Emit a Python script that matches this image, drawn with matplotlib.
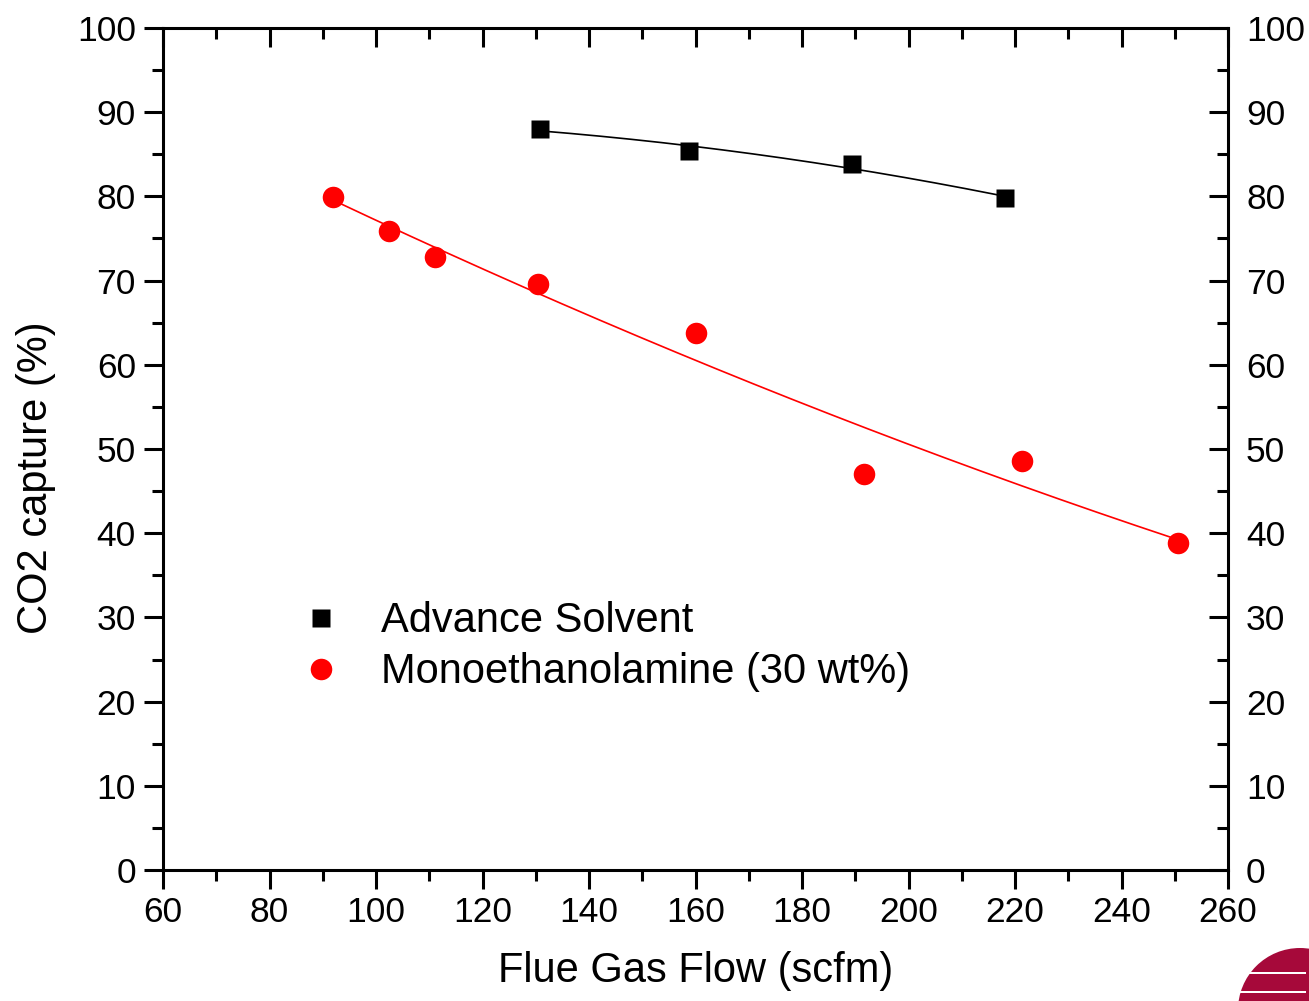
import matplotlib
matplotlib.use('Agg')

import matplotlib.pyplot as plt
import numpy as np
from matplotlib.patches import Circle, Rectangle
from matplotlib.ticker import MultipleLocator

plt.rcParams['font.family'] = ['Liberation Sans', 'DejaVu Sans']

# advance solvent runs
adv_flow = [130.8, 158.8, 189.4, 218.1]
adv_capture = [88.0, 85.4, 83.9, 79.8]

# 30 wt% MEA runs
mea_flow = [91.9, 102.4, 111.1, 130.4, 160.1, 191.6, 221.3, 250.6]
mea_capture = [79.9, 75.9, 72.8, 69.6, 63.8, 47.0, 48.6, 38.8]

TICK_FS = 25.5
LABEL_FS = 30

fig = plt.figure(figsize=(13.09, 10.01), dpi=100)
ax = fig.add_axes([163 / 1309, 131 / 1001, 1065 / 1309, 842 / 1001])


def fit_curve(x, y, deg=2):
    c = np.polyfit(x, y, deg)
    xs = np.linspace(min(x), max(x), 200)
    return xs, np.polyval(c, xs)


xs, ys = fit_curve(adv_flow, adv_capture)
ax.plot(xs, ys, color='black', lw=1.2, zorder=2)
xs, ys = fit_curve(mea_flow, mea_capture)
ax.plot(xs, ys, color='red', lw=1.2, zorder=2)

ax.plot(adv_flow, adv_capture, 's', color='black', ms=13.5, mec='none',
        label='Advance Solvent', zorder=3)
ax.plot(mea_flow, mea_capture, 'o', color='red', ms=15.5, mec='none',
        label='Monoethanolamine (30 wt%)', zorder=3)

ax.set_xlim(60, 260)
ax.set_ylim(0, 100)
ax.xaxis.set_major_locator(MultipleLocator(20))
ax.xaxis.set_minor_locator(MultipleLocator(10))
ax.yaxis.set_major_locator(MultipleLocator(10))
ax.yaxis.set_minor_locator(MultipleLocator(5))

for s in ax.spines.values():
    s.set_linewidth(2.2)

ax.tick_params(which='both', width=2.2, labelsize=TICK_FS, direction='out',
               top=False, right=False)
ax.tick_params(which='major', length=13.5, pad=5)
ax.tick_params(which='minor', length=8)
ax.tick_params(axis='y', which='major', pad=6)

# right side copy of the y axis with ticks pointing inward
ax2 = ax.twinx()
ax2.set_ylim(ax.get_ylim())
ax2.yaxis.set_major_locator(MultipleLocator(10))
ax2.yaxis.set_minor_locator(MultipleLocator(5))
ax2.tick_params(which='both', direction='in', width=2.2, labelsize=TICK_FS)
ax2.tick_params(which='major', length=13.5, pad=13)
ax2.tick_params(which='minor', length=8)
for s in ax2.spines.values():
    s.set_visible(False)

# top ticks pointing inward, no labels
ax3 = ax.secondary_xaxis('top')
ax3.xaxis.set_major_locator(MultipleLocator(20))
ax3.xaxis.set_minor_locator(MultipleLocator(10))
ax3.tick_params(which='both', direction='in', width=2.2, labeltop=False)
ax3.tick_params(which='major', length=13.5)
ax3.tick_params(which='minor', length=8)
ax3.spines['top'].set_visible(False)

ax.set_xlabel('Flue Gas Flow (scfm)', fontsize=LABEL_FS, labelpad=16)
ax.set_ylabel('CO2 capture (%)', fontsize=LABEL_FS)
ax.yaxis.set_label_coords(-0.1, 0.4656)

ax.legend(loc='upper left', bbox_to_anchor=(0.115, 0.339), frameon=False,
          fontsize=LABEL_FS, handlelength=0.9, handletextpad=1.0,
          labelspacing=0.27, borderaxespad=0)

# corner logo
lax = fig.add_axes([0, 0, 1, 1])
lax.set_xlim(0, 1309)
lax.set_ylim(1001, 0)
lax.axis('off')
red = '#a6093a'
lax.add_patch(Circle((1300, 1010), 62, color=red, lw=0))
for yy in (973, 992):
    lax.add_patch(Rectangle((1236, yy - 1.2), 70, 2.4, color='white', lw=0))

fig.savefig('out.png', dpi=100)
